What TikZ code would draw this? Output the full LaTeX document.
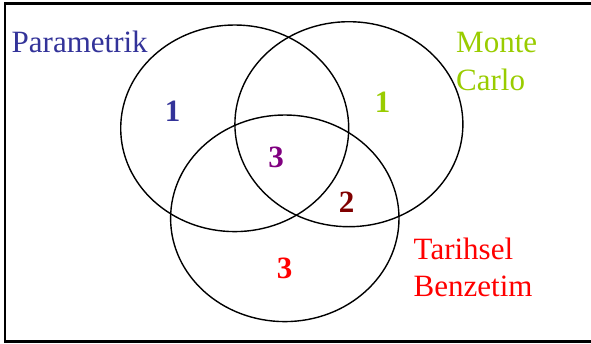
\documentclass[tikz,border=0pt]{standalone}
\usepackage{fontspec}
\setmainfont{Liberation Serif}
\usepackage{tikz}
\usetikzlibrary{positioning}
\definecolor{parablue}{RGB}{51, 51, 153}
\definecolor{montegreen}{RGB}{153, 204, 0}
\definecolor{tarihred}{RGB}{255, 0, 0}
\definecolor{threepurple}{RGB}{128, 0, 128}
\definecolor{twodarkred}{RGB}{128, 0, 0}
\tikzstyle{setline} = [line width=1.4pt, black]
\tikzstyle{setname} = [inner sep=0pt, align=left, font=\fontsize{31}{37.5}\selectfont]
\tikzstyle{count} = [inner sep=0pt, anchor=base, font=\fontsize{31}{31}\selectfont\bfseries]

\begin{document}
\begin{tikzpicture}[x=1pt, y=-1pt]
    \useasboundingbox (0, 0) rectangle (591, 343);
    % Frame
    \draw[line width=2.2pt] (5, 3.5) -- (595, 3.5) -- (595, 341.5) -- (5, 341.5) -- cycle;

    % The three sets
    \draw[setline] (234.7, 128.3) ellipse (114 and 103.3);
    \draw[setline] (348.9, 124.2) ellipse (114 and 102.5);
    \draw[setline] (284.8, 218.3) ellipse (114.2 and 103.3);

    % Set names (base of a two-line node is its last line)
    \node[setname, anchor=base west, parablue] (parametrik) at (11.5, 52) {Parametrik};
    \node[setname, anchor=base west, montegreen] (montecarlo) at (456, 90) {Monte\\Carlo};
    \node[setname, anchor=base west, tarihred] (tarihsel) at (413.5, 296.7) {Tarihsel\\Benzetim};

    % Counts in each region
    \node[count, parablue] (onepara) at (172.5, 121.7) {1};
    \node[count, montegreen] (onemonte) at (382.5, 112) {1};
    \node[count, threepurple] (threeall) at (276.2, 167.3) {3};
    \node[count, twodarkred] (twomt) at (346.7, 212.7) {2};
    \node[count, tarihred] (threetarih) at (284.5, 278) {3};
\end{tikzpicture}
\end{document}
